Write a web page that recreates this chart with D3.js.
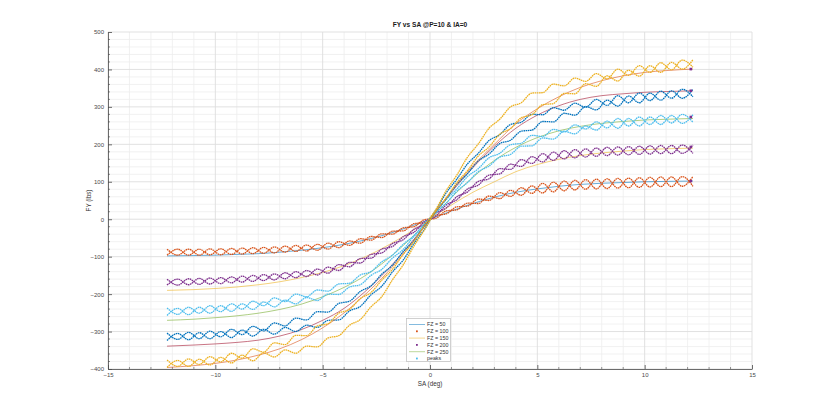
<!DOCTYPE html>
<html><head><meta charset="utf-8">
<script src="https://cdn.jsdelivr.net/npm/d3@7"></script>
<style>body{margin:0;background:#fff;}svg{display:block;}</style>
</head><body>
<svg id="c" width="828" height="415"></svg>
<script>
// ---- data ----
const xTicks = [-15,-10,-5,0,5,10,15];
const yTicks = [-400,-300,-200,-100,0,100,200,300,400,500];
const titleText = "FY vs SA @P=10 & IA=0";
const xLabel = "SA (deg)";
const yLabel = "FY (lbs)";
const legendLabels = ["FZ = 50","FZ = 100","FZ = 150","FZ = 200","FZ = 250","peaks"];

// slip angle samples of the measured sweeps
const dataSA = [-12.25,-11.75,-11.25,-10.75,-10.25,-9.75,-9.25,-8.75,-8.25,-7.75,-7.25,-6.75,-6.25,-5.75,-5.25,-4.75,-4.25,-3.75,-3.25,-2.75,-2.25,-1.75,-1.25,-0.75,-0.25,0.25,0.75,1.25,1.75,2.25,2.75,3.25,3.75,4.25,4.75,5.25,5.75,6.25,6.75,7.25,7.75,8.25,8.75,9.25,9.75,10.25,10.75,11.25,11.75,12.25];
// measured FY, two passes per load
const fz50A  = [-80,-96,-80,-96,-79,-95,-78,-93,-76,-91,-74,-88,-70,-85,-67,-80,-60,-70,-52,-56,-39,-40,-23,-20,-1,2,22,25,43,42,62,55,77,64,89,70,99,76,104,80,107,82,109,84,111,86,113,87,114,88];
const fz50B  = [-96,-80,-96,-80,-95,-79,-94,-77,-92,-75,-90,-72,-86,-69,-83,-64,-76,-58,-64,-46,-49,-32,-31,-12,-9,10,14,33,35,54,50,71,61,84,69,96,73,102,78,106,81,108,83,110,85,112,87,113,88,114];
const fz100A = [-160,-176,-159,-174,-157,-172,-154,-168,-150,-164,-146,-159,-140,-153,-133,-144,-121,-127,-105,-104,-80,-73,-47,-35,-6,7,38,52,81,91,118,121,147,141,167,153,179,161,186,166,190,170,193,172,195,174,197,175,198,176];
const fz100B = [-176,-160,-175,-158,-173,-156,-170,-152,-166,-148,-162,-143,-156,-137,-149,-128,-137,-115,-117,-94,-90,-65,-55,-27,-14,15,30,60,73,101,108,135,133,159,149,175,157,183,164,188,168,192,171,194,173,196,175,197,176,198];
const fz150A = [-237,-254,-235,-251,-231,-247,-226,-240,-219,-231,-210,-220,-200,-207,-189,-192,-173,-171,-149,-140,-114,-96,-67,-44,-11,16,52,81,114,135,164,176,199,203,224,221,240,233,252,241,260,244,269,249,273,253,277,257,280,259];
const fz150B = [-257,-238,-255,-235,-251,-231,-246,-226,-241,-221,-234,-216,-226,-209,-217,-200,-201,-181,-175,-150,-134,-104,-81,-46,-19,16,42,75,98,127,142,166,173,195,196,217,214,235,228,249,238,262,243,269,249,273,253,277,256,279];
const fz200A = [-304,-321,-302,-319,-299,-314,-294,-308,-286,-298,-277,-285,-264,-269,-247,-248,-225,-219,-193,-178,-147,-123,-87,-57,-16,22,70,107,148,176,210,226,253,259,280,279,298,291,310,299,320,304,330,311,337,317,342,323,347,327];
const fz200B = [-324,-305,-322,-303,-319,-300,-316,-296,-312,-294,-307,-289,-300,-283,-289,-270,-269,-245,-233,-202,-179,-141,-109,-65,-26,20,54,93,122,156,174,202,211,235,238,261,260,283,278,301,292,318,302,329,311,337,318,343,323,347];
const fz250A = [-376,-393,-373,-388,-367,-381,-358,-371,-346,-355,-330,-335,-310,-311,-285,-279,-251,-241,-212,-196,-163,-134,-94,-60,-16,24,76,118,166,201,243,267,300,311,337,338,361,356,377,368,389,375,401,384,410,392,418,399,425,406];
const fz250B = [-396,-377,-393,-374,-389,-369,-384,-363,-378,-357,-368,-349,-358,-339,-341,-317,-311,-283,-268,-234,-207,-162,-122,-72,-28,20,56,98,130,169,193,227,242,271,279,306,309,336,335,362,355,383,369,398,382,410,392,419,401,426];

// fitted curves
const fitSA  = [-12.25,-11,-10,-9,-8,-7,-6,-5,-4,-3,-2,-1,0,1,2,3,4,5,6,7,8,9,10,11,12.25];
const fit50  = [-98,-97,-96,-94,-92,-88,-83,-76,-67,-55,-40,-21,0,22,42,59,72,81,88,93,96,98,100,101,102];
const fit100 = [-190,-188,-185,-181,-175,-167,-156,-142,-124,-100,-71,-37,0,38,72,100,127,146,160,170,177,182,186,188,190];
const fit150 = [-270,-267,-263,-258,-251,-241,-227,-207,-182,-150,-108,-57,0,58,112,157,192,218,236,248,256,261,265,267,269];
const fit200 = [-339,-336,-333,-329,-323,-312,-295,-270,-238,-192,-136,-71,0,72,138,195,243,278,303,320,330,335,339,341,343];
const fit250 = [-396,-391,-385,-376,-363,-346,-322,-290,-250,-200,-143,-76,0,76,143,200,255,295,327,352,370,383,392,397,401];

// peaks
const peakSA = [12.15,12.15,12.15,12.15,12.15];
const peakFY = [401,343,273,193,102];

// ---- drawing ----
const C = {blue:"#0072BD", orange:"#D95319", yellow:"#EDB120", purple:"#7E2F8E", green:"#77AC30", cyan:"#4DBEEE", red:"#A2142F"};
const svg = d3.select("#c");
const L=108, R=752, T=32, B=369;
const x = d3.scaleLinear().domain([-15,15]).range([L,R]);
const y = d3.scaleLinear().domain([-400,500]).range([B,T]);
const font = "'Liberation Sans', Arial, Helvetica, sans-serif";

// grid
const g = svg.append("g");
const minorX = d3.range(-15,15.01,1).filter(v=>v%5!==0);
const minorY = d3.range(-400,500.01,20).filter(v=>v%100!==0);
g.selectAll(".mx").data(minorX).enter().append("line")
  .attr("x1",d=>x(d)).attr("x2",d=>x(d)).attr("y1",T).attr("y2",B)
  .attr("stroke","#ededed").attr("stroke-width",0.8);
g.selectAll(".my").data(minorY).enter().append("line")
  .attr("x1",L).attr("x2",R).attr("y1",d=>y(d)).attr("y2",d=>y(d))
  .attr("stroke","#ededed").attr("stroke-width",0.8);
g.selectAll(".gx").data(xTicks).enter().append("line")
  .attr("x1",d=>x(d)).attr("x2",d=>x(d)).attr("y1",T).attr("y2",B)
  .attr("stroke","#dedede").attr("stroke-width",0.9);
g.selectAll(".gy").data(yTicks).enter().append("line")
  .attr("x1",L).attr("x2",R).attr("y1",d=>y(d)).attr("y2",d=>y(d))
  .attr("stroke","#dedede").attr("stroke-width",0.9);

// axes
const ax = svg.append("g").attr("transform",`translate(0,${B})`)
  .call(d3.axisBottom(x).tickValues(xTicks).tickSizeInner(-4).tickSizeOuter(0).tickPadding(4));
const ay = svg.append("g").attr("transform",`translate(${L},0)`)
  .call(d3.axisLeft(y).tickValues(yTicks).tickSizeInner(-4).tickSizeOuter(0).tickPadding(4));
[ax,ay].forEach(a=>{
  a.select(".domain").attr("stroke","#4a4a4a").attr("stroke-width",0.8);
  a.selectAll(".tick line").attr("stroke","#4a4a4a").attr("stroke-width",0.8);
  a.selectAll("text").attr("fill","#4a4a4a").style("font-family",font).style("font-size","6px");
});
svg.append("g").selectAll("line").data(minorX).enter().append("line")
  .attr("x1",d=>x(d)).attr("x2",d=>x(d)).attr("y1",B).attr("y2",B-2)
  .attr("stroke","#4a4a4a").attr("stroke-width",0.6);
svg.append("g").selectAll("line").data(minorY).enter().append("line")
  .attr("x1",L).attr("x2",L+2).attr("y1",d=>y(d)).attr("y2",d=>y(d))
  .attr("stroke","#4a4a4a").attr("stroke-width",0.6);

// series
const fitLine = d3.line().x(d=>x(d[0])).y(d=>y(d[1])).curve(d3.curveMonotoneX);
const dataLine = d3.line().x(d=>x(d[0])).y(d=>y(d[1])).curve(d3.curveMonotoneX);
const plot = svg.append("g");
function drawFit(vals,color){
  plot.append("path").datum(fitSA.map((s,i)=>[s,vals[i]])).attr("d",fitLine)
    .attr("fill","none").attr("stroke",color).attr("stroke-width",0.7).attr("opacity",0.85);
}
function drawData(vals,color){
  plot.append("path").datum(dataSA.map((s,i)=>[s,vals[i]])).attr("d",dataLine)
    .attr("fill","none").attr("stroke",color).attr("stroke-width",1.3)
    .attr("stroke-dasharray","1.6,0.6");
}
drawFit(fit50,C.blue);   drawData(fz50A,C.orange);  drawData(fz50B,C.orange);
drawFit(fit100,C.yellow);drawData(fz100A,C.purple); drawData(fz100B,C.purple);
drawFit(fit150,C.green); drawData(fz150A,C.cyan);   drawData(fz150B,C.cyan);
drawFit(fit200,C.red);   drawData(fz200A,C.blue);   drawData(fz200B,C.blue);
drawFit(fit250,C.orange);drawData(fz250A,C.yellow); drawData(fz250B,C.yellow);
plot.selectAll(".pk").data(peakSA.map((s,i)=>[s,peakFY[i]])).enter().append("rect")
  .attr("x",d=>x(d[0])-1.3).attr("y",d=>y(d[1])-1.3).attr("width",2.6).attr("height",2.6)
  .attr("fill",C.purple);

// title & labels
svg.append("text").attr("x",(L+R)/2).attr("y",27).attr("text-anchor","middle")
  .style("font-family",font).style("font-size","6.6px").style("font-weight","bold")
  .attr("fill","#1a1a1a").text(titleText);
svg.append("text").attr("x",(L+R)/2).attr("y",386).attr("text-anchor","middle")
  .style("font-family",font).style("font-size","6.3px").attr("fill","#333").text(xLabel);
svg.append("text").attr("transform",`translate(91,${(T+B)/2}) rotate(-90)`).attr("text-anchor","middle")
  .style("font-family",font).style("font-size","6.3px").attr("fill","#333").text(yLabel);

// legend
const legTypes = ["line","marker","line","marker","line","marker"];
const legColors = [C.blue,C.orange,C.yellow,C.purple,C.green,C.cyan];
const lg = svg.append("g");
lg.append("rect").attr("x",406.5).attr("y",318.5).attr("width",44).attr("height",43)
  .attr("fill","#fff").attr("stroke","#bdbdbd").attr("stroke-width",0.7);
legendLabels.forEach((lab,i)=>{
  const yy = 324.5 + i*6.8;
  if(legTypes[i]==="line"){
    lg.append("line").attr("x1",409).attr("x2",425).attr("y1",yy).attr("y2",yy)
      .attr("stroke",legColors[i]).attr("stroke-width",0.8).attr("opacity",0.6);
  } else {
    lg.append("rect").attr("x",416).attr("y",yy-0.9).attr("width",1.8).attr("height",1.8).attr("fill",legColors[i]);
  }
  lg.append("text").attr("x",427).attr("y",yy+1.9).style("font-family",font).style("font-size","5.3px")
    .attr("fill","#333").text(lab);
});
</script>
</body></html>
